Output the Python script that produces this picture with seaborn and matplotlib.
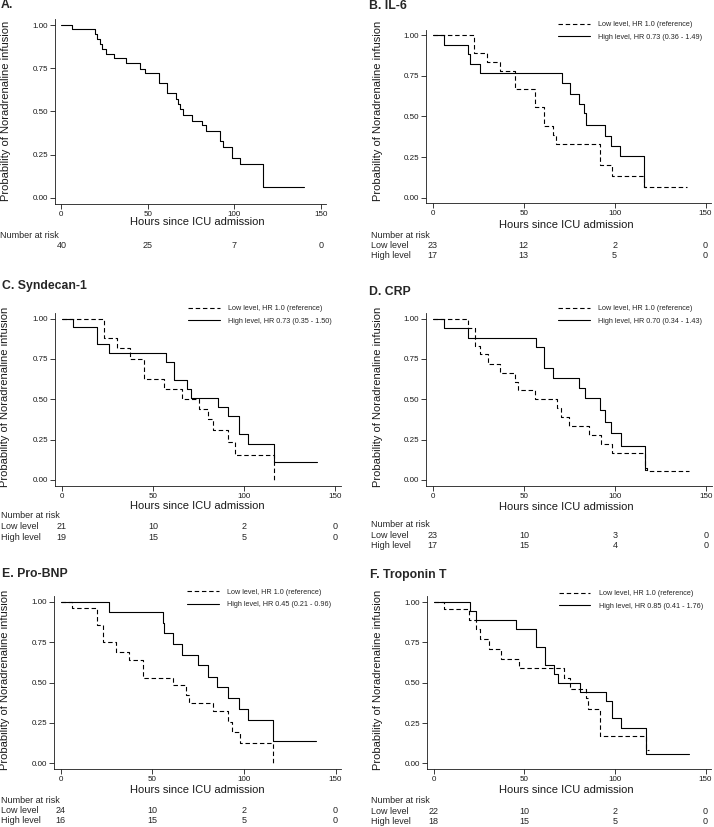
import matplotlib.pyplot as plt
import seaborn as sns
from matplotlib.transforms import blended_transform_factory

# Kaplan-Meier steps: hours since ICU admission / probability
a_time = [0, 6.2, 19.6, 20.6, 22.1, 23.5, 26.0, 30.2, 37.5, 45.6, 48.1, 56.5, 61.3, 66.2,
          67.3, 68.6, 70.5, 75.5, 81.3, 83.8, 91.5, 93.4, 98.6, 103.0, 116.3, 140.0]
a_surv = [1.0, 0.975, 0.95, 0.917, 0.89, 0.859, 0.832, 0.807, 0.778, 0.743, 0.72, 0.662, 0.605,
          0.569, 0.542, 0.512, 0.479, 0.446, 0.419, 0.388, 0.326, 0.295, 0.23, 0.195, 0.064, 0.064]

b_low_time = [0, 22.9, 29.7, 37.0, 45.3, 56.3, 61.3, 66.4, 67.9, 91.7, 98.5, 116.3, 139.7]
b_low_surv = [1.0, 0.889, 0.833, 0.778, 0.667, 0.556, 0.444, 0.389, 0.333, 0.20, 0.133, 0.067, 0.067]
b_high_time = [0, 6.2, 19.6, 20.5, 26.0, 71.3, 75.2, 80.5, 83.3, 84.2, 94.8, 97.9, 103.1, 116.3, 117.5]
b_high_surv = [1.0, 0.941, 0.882, 0.824, 0.765, 0.706, 0.637, 0.575, 0.52, 0.447, 0.382, 0.32,
               0.256, 0.064, 0.064]

c_low_time = [0, 23.4, 30.1, 37.5, 45.1, 56.1, 66.1, 75.3, 80.4, 83.1, 91.4, 95.0, 116.4, 116.6]
c_low_surv = [1.0, 0.878, 0.816, 0.752, 0.624, 0.562, 0.5, 0.438, 0.376, 0.312, 0.238, 0.155, 0.0, 0.0]
c_high_time = [0, 6.0, 19.6, 25.9, 57.0, 61.6, 68.5, 70.7, 85.9, 91.5, 97.4, 102.3, 116.4, 140.1]
c_high_surv = [1.0, 0.948, 0.845, 0.789, 0.733, 0.62, 0.562, 0.51, 0.452, 0.397, 0.283, 0.225, 0.11, 0.11]

d_low_time = [0, 19.6, 23.3, 26.0, 30.1, 37.0, 45.3, 46.6, 56.3, 68.2, 70.4, 74.8, 85.6, 92.6,
              98.5, 116.3, 117.7, 140.7]
d_low_surv = [1.0, 0.94, 0.833, 0.779, 0.721, 0.665, 0.607, 0.556, 0.5, 0.444, 0.388, 0.335,
              0.277, 0.223, 0.165, 0.074, 0.056, 0.056]
d_high_time = [0, 6.2, 19.6, 56.8, 61.3, 66.0, 80.5, 83.8, 91.7, 94.8, 97.9, 103.1, 116.3, 117.0]
d_high_surv = [1.0, 0.94, 0.882, 0.822, 0.692, 0.63, 0.568, 0.506, 0.432, 0.36, 0.291, 0.213, 0.06, 0.06]

e_low_time = [0, 6.0, 20.0, 23.3, 30.0, 37.5, 45.1, 61.5, 68.2, 70.2, 83.3, 91.1, 93.6, 97.8, 116.0, 116.3]
e_low_surv = [1.0, 0.959, 0.858, 0.75, 0.691, 0.641, 0.53, 0.482, 0.425, 0.373, 0.322, 0.256,
              0.194, 0.128, 0.0, 0.0]
e_high_time = [0, 26.4, 56.0, 56.5, 61.5, 66.0, 75.1, 80.2, 85.5, 91.1, 97.5, 102.4, 116.0, 139.6]
e_high_surv = [1.0, 0.936, 0.87, 0.806, 0.736, 0.668, 0.606, 0.534, 0.472, 0.404, 0.338, 0.27, 0.136, 0.136]

f_low_time = [0, 5.9, 19.3, 23.5, 25.7, 30.3, 37.3, 46.9, 71.7, 75.4, 84.0, 85.3, 91.5, 116.9, 118.9]
f_low_surv = [1.0, 0.955, 0.89, 0.83, 0.773, 0.711, 0.649, 0.591, 0.529, 0.463, 0.405, 0.335,
              0.167, 0.083, 0.083]
f_high_time = [0, 20.2, 23.3, 45.6, 56.4, 61.6, 66.2, 68.8, 80.5, 95.2, 98.3, 103.5, 116.9, 140.6]
f_high_surv = [1.0, 0.944, 0.888, 0.833, 0.721, 0.612, 0.556, 0.5, 0.442, 0.388, 0.279, 0.221, 0.056, 0.056]

# number at risk at 0, 50, 100, 150 h
risk_hours = [0, 50, 100, 150]
a_risk = [40, 25, 7, 0]
b_risk_low, b_risk_high = [23, 12, 2, 0], [17, 13, 5, 0]
c_risk_low, c_risk_high = [21, 10, 2, 0], [19, 15, 5, 0]
d_risk_low, d_risk_high = [23, 10, 3, 0], [17, 15, 4, 0]
e_risk_low, e_risk_high = [24, 10, 2, 0], [16, 15, 5, 0]
f_risk_low, f_risk_high = [22, 10, 2, 0], [18, 15, 5, 0]

low_label = "Low level, HR 1.0 (reference)"
b_high_label = "High level, HR 0.73 (0.36 - 1.49)"
c_high_label = "High level, HR 0.73 (0.35 - 1.50)"
d_high_label = "High level, HR 0.70 (0.34 - 1.43)"
e_high_label = "High level, HR 0.45 (0.21 - 0.96)"
f_high_label = "High level, HR 0.85 (0.41 - 1.76)"

sns.set_style("ticks")
plt.rcParams['font.family'] = ['Liberation Sans', 'DejaVu Sans']

W, H = 714, 827
fig = plt.figure(figsize=(W / 100, H / 100), dpi=100)
DASH = (0, (4, 2.5))
INK = '#1a1a1a'


def fx(px):
    return px / W


def fy(px):
    return 1 - px / H


def panel(box, title, title_xy, ylab_xy, xlab_xy, curves, rows, row_ys, label_x, legend_xy=None):
    left, top, right, bottom = box
    ax = fig.add_axes([fx(left), fy(bottom), (right - left) / W, (bottom - top) / H])
    for time, surv, style, label in curves:
        sns.lineplot(x=time, y=surv, ax=ax, color='black', lw=0.8, linestyle=style,
                     drawstyle='steps-post', errorbar=None, legend=False, label=label)
    ax.set_xlim(-3.7, 153)
    ax.set_ylim(-0.035, 1.035)
    ax.set_xticks(risk_hours)
    ax.set_yticks([0, 0.25, 0.5, 0.75, 1.0])
    ax.set_yticklabels(['0.00', '0.25', '0.50', '0.75', '1.00'])
    ax.tick_params(labelsize=5.8, length=3.6, width=0.6, pad=1.5, color=INK, labelcolor=INK)
    sns.despine(ax=ax)
    for s in ['left', 'bottom']:
        ax.spines[s].set_linewidth(0.6)
        ax.spines[s].set_color(INK)

    fig.text(fx(title_xy[0]), fy(title_xy[1]), title, fontsize=8.8, fontweight='bold',
             ha='left', va='center')
    fig.text(fx(ylab_xy[0]), fy(ylab_xy[1]), "Probability of Noradrenaline infusion",
             fontsize=8, rotation=90, ha='center', va='center', color=INK)
    fig.text(fx(xlab_xy[0]), fy(xlab_xy[1]), "Hours since ICU admission",
             fontsize=8, ha='center', va='center', color=INK)

    # number at risk table
    tr = blended_transform_factory(ax.transData, fig.transFigure)
    fig.text(fx(label_x), fy(row_ys[0]), "Number at risk", fontsize=6.5, ha='left', va='center')
    for (name, counts), y in zip(rows, row_ys[1:]):
        if name:
            fig.text(fx(label_x), fy(y), name, fontsize=6.5, ha='left', va='center')
        for h, n in zip(risk_hours, counts):
            ax.text(h, fy(y), str(n), transform=tr, fontsize=6.5, ha='center', va='center',
                    clip_on=False)

    if legend_xy is not None:
        handles = ax.get_lines()
        ax.legend(handles, [h.get_label() for h in handles], loc='upper left',
                  bbox_to_anchor=(fx(legend_xy[0]), fy(legend_xy[1])),
                  bbox_transform=fig.transFigure, frameon=False, fontsize=5.2,
                  borderpad=0, borderaxespad=0, handlelength=4.4, handletextpad=1.2,
                  labelspacing=0.8)
    return ax


panel((55, 19, 326, 203.7), "A.", (1, 4.5), (5.7, 111), (197.7, 221.7),
      [(a_time, a_surv, '-', None)],
      [(None, a_risk)], [235, 245], 0)

panel((426, 29.6, 711, 203.4), "B. IL-6", (369, 6), (377.7, 111), (566, 225),
      [(b_low_time, b_low_surv, DASH, low_label), (b_high_time, b_high_surv, '-', b_high_label)],
      [("Low level", b_risk_low), ("High level", b_risk_high)], [235, 245.7, 256], 371,
      legend_xy=(558, 21))

panel((55, 313, 340.5, 485.6), "C. Syndecan-1", (2, 286.5), (5, 396.8), (197.7, 506),
      [(c_low_time, c_low_surv, DASH, low_label), (c_high_time, c_high_surv, '-', c_high_label)],
      [("Low level", c_risk_low), ("High level", c_risk_high)], [515.3, 526.7, 537], 1,
      legend_xy=(188, 305))

panel((426, 313, 711.5, 485.6), "D. CRP", (369, 292), (378, 396.8), (566, 507),
      [(d_low_time, d_low_surv, DASH, low_label), (d_high_time, d_high_surv, '-', d_high_label)],
      [("Low level", d_risk_low), ("High level", d_risk_high)], [524.3, 536, 546], 371,
      legend_xy=(558, 305))

panel((54, 596, 341, 769), "E. Pro-BNP", (2, 574), (5, 680), (197.7, 790.3),
      [(e_low_time, e_low_surv, DASH, low_label), (e_high_time, e_high_surv, '-', e_high_label)],
      [("Low level", e_risk_low), ("High level", e_risk_high)], [800.3, 810.3, 820.3], 1,
      legend_xy=(187, 588.5))

panel((427, 596.4, 711, 769), "F. Troponin T", (370, 575), (378, 680.3), (566, 790.3),
      [(f_low_time, f_low_surv, DASH, low_label), (f_high_time, f_high_surv, '-', f_high_label)],
      [("Low level", f_risk_low), ("High level", f_risk_high)], [800.3, 811.3, 821.3], 371,
      legend_xy=(558.7, 590))

fig.savefig("out.png", dpi=100)
